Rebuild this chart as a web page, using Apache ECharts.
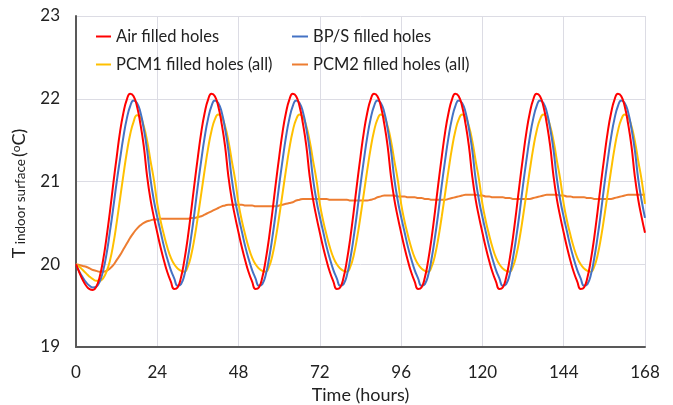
<!DOCTYPE html>
<html>
<head>
<meta charset="utf-8">
<script src="https://cdn.jsdelivr.net/npm/echarts@6/dist/echarts.min.js"></script>
<style>
  html, body { margin: 0; padding: 0; background: #fff; }
  #chart { width: 673px; height: 405px; }
</style>
</head>
<body>
<div id="chart"></div>
<script>
// time axis (hours), hourly
var hours = [0, 1, 2, 3, 4, 5, 6, 7, 8, 9, 10, 11, 12, 13, 14, 15, 16, 17, 18, 19, 20, 21, 22, 23,
  24, 25, 26, 27, 28, 29, 30, 31, 32, 33, 34, 35, 36, 37, 38, 39, 40, 41, 42, 43, 44, 45, 46, 47,
  48, 49, 50, 51, 52, 53, 54, 55, 56, 57, 58, 59, 60, 61, 62, 63, 64, 65, 66, 67, 68, 69, 70, 71,
  72, 73, 74, 75, 76, 77, 78, 79, 80, 81, 82, 83, 84, 85, 86, 87, 88, 89, 90, 91, 92, 93, 94, 95,
  96, 97, 98, 99, 100, 101, 102, 103, 104, 105, 106, 107, 108, 109, 110, 111, 112, 113, 114, 115, 116, 117, 118, 119,
  120, 121, 122, 123, 124, 125, 126, 127, 128, 129, 130, 131, 132, 133, 134, 135, 136, 137, 138, 139, 140, 141, 142, 143,
  144, 145, 146, 147, 148, 149, 150, 151, 152, 153, 154, 155, 156, 157, 158, 159, 160, 161, 162, 163, 164, 165, 166, 167,
  168]
var xTicks = [0, 24, 48, 72, 96, 120, 144, 168]
var yTicks = [19, 20, 21, 22, 23]

// Air filled holes
var airVal = [
  20.00, 19.90, 19.81, 19.74, 19.70, 19.69, 19.73, 19.85, 20.05, 20.32, 20.63, 20.97, 21.29, 21.60, 21.83, 21.99, 22.06, 22.03, 21.91, 21.70, 21.43, 21.06, 20.78, 20.57,
  20.38, 20.20, 20.04, 19.90, 19.79, 19.70, 19.72, 19.84, 20.05, 20.32, 20.64, 20.98, 21.30, 21.60, 21.83, 21.99, 22.06, 22.03, 21.91, 21.70, 21.43, 21.06, 20.78, 20.57,
  20.38, 20.20, 20.04, 19.90, 19.79, 19.70, 19.72, 19.84, 20.05, 20.32, 20.64, 20.98, 21.30, 21.60, 21.83, 21.99, 22.06, 22.03, 21.91, 21.70, 21.43, 21.06, 20.78, 20.57,
  20.38, 20.20, 20.04, 19.90, 19.79, 19.70, 19.72, 19.84, 20.05, 20.32, 20.64, 20.98, 21.30, 21.60, 21.83, 21.99, 22.06, 22.03, 21.91, 21.70, 21.43, 21.06, 20.78, 20.57,
  20.38, 20.20, 20.04, 19.90, 19.79, 19.70, 19.72, 19.84, 20.05, 20.32, 20.64, 20.98, 21.30, 21.60, 21.83, 21.99, 22.06, 22.03, 21.91, 21.70, 21.43, 21.06, 20.78, 20.57,
  20.38, 20.20, 20.04, 19.90, 19.79, 19.70, 19.72, 19.84, 20.05, 20.32, 20.64, 20.98, 21.30, 21.60, 21.83, 21.99, 22.06, 22.03, 21.91, 21.70, 21.43, 21.06, 20.78, 20.57,
  20.38, 20.20, 20.04, 19.90, 19.79, 19.70, 19.72, 19.84, 20.05, 20.32, 20.64, 20.98, 21.30, 21.60, 21.83, 21.99, 22.06, 22.03, 21.91, 21.70, 21.43, 21.06, 20.78, 20.57,
  20.38]
// BP/S filled holes
var bpsVal = [
  20.00, 19.91, 19.84, 19.78, 19.74, 19.72, 19.73, 19.79, 19.92, 20.12, 20.39, 20.68, 20.99, 21.27, 21.54, 21.76, 21.91, 21.98, 21.95, 21.84, 21.64, 21.38, 21.03, 20.77,
  20.57, 20.39, 20.21, 20.06, 19.93, 19.83, 19.74, 19.76, 19.87, 20.07, 20.33, 20.63, 20.96, 21.26, 21.54, 21.76, 21.91, 21.98, 21.95, 21.84, 21.64, 21.38, 21.03, 20.77,
  20.57, 20.39, 20.21, 20.06, 19.93, 19.83, 19.74, 19.76, 19.87, 20.07, 20.33, 20.63, 20.96, 21.26, 21.54, 21.76, 21.91, 21.98, 21.95, 21.84, 21.64, 21.38, 21.03, 20.77,
  20.57, 20.39, 20.21, 20.06, 19.93, 19.83, 19.74, 19.76, 19.87, 20.07, 20.33, 20.63, 20.96, 21.26, 21.54, 21.76, 21.91, 21.98, 21.95, 21.84, 21.64, 21.38, 21.03, 20.77,
  20.57, 20.39, 20.21, 20.06, 19.93, 19.83, 19.74, 19.76, 19.87, 20.07, 20.33, 20.63, 20.96, 21.26, 21.54, 21.76, 21.91, 21.98, 21.95, 21.84, 21.64, 21.38, 21.03, 20.77,
  20.57, 20.39, 20.21, 20.06, 19.93, 19.83, 19.74, 19.76, 19.87, 20.07, 20.33, 20.63, 20.96, 21.26, 21.54, 21.76, 21.91, 21.98, 21.95, 21.84, 21.64, 21.38, 21.03, 20.77,
  20.57, 20.39, 20.21, 20.06, 19.93, 19.83, 19.74, 19.76, 19.87, 20.07, 20.33, 20.63, 20.96, 21.26, 21.54, 21.76, 21.91, 21.98, 21.95, 21.84, 21.64, 21.38, 21.03, 20.77,
  20.56]
// PCM1 filled holes (all)
var pcm1Val = [
  20.00, 19.97, 19.93, 19.89, 19.85, 19.82, 19.80, 19.80, 19.83, 19.91, 20.04, 20.24, 20.50, 20.79, 21.08, 21.35, 21.57, 21.72, 21.80, 21.78, 21.67, 21.49, 21.25, 21.02,
  20.73, 20.52, 20.35, 20.20, 20.08, 20.00, 19.95, 19.92, 19.91, 19.97, 20.11, 20.32, 20.58, 20.86, 21.14, 21.40, 21.61, 21.75, 21.81, 21.78, 21.67, 21.49, 21.25, 21.02,
  20.73, 20.52, 20.35, 20.20, 20.08, 20.00, 19.95, 19.92, 19.91, 19.97, 20.11, 20.32, 20.58, 20.86, 21.14, 21.40, 21.61, 21.75, 21.81, 21.78, 21.67, 21.49, 21.25, 21.02,
  20.73, 20.52, 20.35, 20.20, 20.08, 20.00, 19.95, 19.92, 19.91, 19.97, 20.11, 20.32, 20.58, 20.86, 21.14, 21.40, 21.61, 21.75, 21.81, 21.78, 21.67, 21.49, 21.25, 21.02,
  20.73, 20.52, 20.35, 20.20, 20.08, 20.00, 19.95, 19.92, 19.91, 19.97, 20.11, 20.32, 20.58, 20.86, 21.14, 21.40, 21.61, 21.75, 21.81, 21.78, 21.67, 21.49, 21.25, 21.02,
  20.73, 20.52, 20.35, 20.20, 20.08, 20.00, 19.95, 19.92, 19.91, 19.97, 20.11, 20.32, 20.58, 20.86, 21.14, 21.40, 21.61, 21.75, 21.81, 21.78, 21.67, 21.49, 21.25, 21.02,
  20.73, 20.52, 20.35, 20.20, 20.08, 20.00, 19.95, 19.92, 19.91, 19.97, 20.11, 20.32, 20.58, 20.86, 21.14, 21.40, 21.61, 21.75, 21.81, 21.78, 21.67, 21.49, 21.25, 21.02,
  20.73]
// PCM2 filled holes (all)
var pcm2Val = [
  20.00, 19.99, 19.98, 19.97, 19.95, 19.93, 19.92, 19.91, 19.91, 19.92, 19.95, 19.99, 20.05, 20.11, 20.18, 20.25, 20.32, 20.38, 20.43, 20.47, 20.50, 20.52, 20.53, 20.54,
  20.54, 20.55, 20.55, 20.55, 20.55, 20.55, 20.55, 20.55, 20.55, 20.55, 20.56, 20.56, 20.57, 20.58, 20.60, 20.62, 20.64, 20.66, 20.68, 20.70, 20.71, 20.72, 20.72, 20.72,
  20.72, 20.72, 20.71, 20.71, 20.71, 20.70, 20.70, 20.70, 20.70, 20.70, 20.70, 20.70, 20.71, 20.72, 20.73, 20.74, 20.75, 20.77, 20.78, 20.79, 20.79, 20.79, 20.79, 20.79,
  20.79, 20.79, 20.79, 20.78, 20.78, 20.78, 20.78, 20.78, 20.78, 20.77, 20.77, 20.77, 20.77, 20.77, 20.77, 20.78, 20.79, 20.81, 20.82, 20.83, 20.83, 20.83, 20.83, 20.82,
  20.82, 20.82, 20.81, 20.81, 20.81, 20.80, 20.80, 20.79, 20.79, 20.78, 20.78, 20.78, 20.78, 20.78, 20.79, 20.80, 20.81, 20.82, 20.83, 20.84, 20.84, 20.84, 20.84, 20.83,
  20.83, 20.82, 20.82, 20.81, 20.81, 20.81, 20.81, 20.80, 20.80, 20.79, 20.79, 20.79, 20.79, 20.79, 20.79, 20.80, 20.81, 20.82, 20.83, 20.84, 20.84, 20.84, 20.84, 20.83,
  20.83, 20.82, 20.82, 20.81, 20.81, 20.81, 20.81, 20.80, 20.80, 20.79, 20.79, 20.79, 20.79, 20.79, 20.79, 20.80, 20.81, 20.82, 20.83, 20.84, 20.84, 20.84, 20.84, 20.84,
  20.84]

var names = ['Air filled holes', 'BP/S filled holes', 'PCM1 filled holes (all)', 'PCM2 filled holes (all)']
var colors = ['#ff0000', '#4472c4', '#ffc000', '#ed7d31']

var font = 'Lato, "Open Sans", sans-serif'

function pairs(vals) {
  return hours.map(function (h, i) { return [h, vals[i]] })
}

var chart = echarts.init(document.getElementById('chart'))

var seriesVals = [airVal, bpsVal, pcm1Val, pcm2Val]
var series = seriesVals.map(function (vals, i) {
  return {
    name: names[i],
    type: 'line',
    smooth: true,
    symbol: 'none',
    data: pairs(vals),
    lineStyle: { color: colors[i], width: 2 },
    itemStyle: { color: colors[i] },
    z: 4 - i
  }
})

var legendText = { fontSize: 16.5, color: '#222', fontFamily: font, lineHeight: 16 }

var option = {
  animation: false,
  textStyle: { fontFamily: font },
  grid: { left: 76, right: 28, top: 16, bottom: 58, outerBoundsMode: 'none', containLabel: false },
  legend: [
    {
      data: [names[0], names[2]],
      orient: 'vertical',
      left: 91, top: 23,
      icon: 'rect',
      itemWidth: 15, itemHeight: 2, itemGap: 11,
      textStyle: legendText
    },
    {
      data: [names[1], names[3]],
      orient: 'vertical',
      left: 287, top: 23,
      icon: 'rect',
      itemWidth: 16, itemHeight: 2, itemGap: 11,
      textStyle: legendText
    }
  ],
  xAxis: {
    type: 'value',
    min: xTicks[0], max: xTicks[xTicks.length - 1], interval: 24,
    name: 'Time (hours)',
    nameLocation: 'middle',
    nameGap: 36,
    nameTextStyle: { fontSize: 18, color: '#222', fontFamily: font },
    axisLine: { onZero: false, lineStyle: { color: '#595959', width: 2 } },
    axisTick: { show: false },
    axisLabel: { fontSize: 17, color: '#222', margin: 17, fontFamily: font },
    splitLine: { show: true, lineStyle: { color: '#dcdce4', width: 1 } }
  },
  yAxis: {
    type: 'value',
    min: yTicks[0], max: yTicks[yTicks.length - 1], interval: 1,
    name: '{t|T}{s| indoor surface}{p|(}{o|o}{c|C)}',
    nameLocation: 'middle',
    nameRotate: 90,
    nameGap: 48,
    nameTextStyle: {
      color: '#222',
      rich: {
        t: { fontSize: 18, fontFamily: font, color: '#222' },
        s: { fontSize: 13.5, fontFamily: font, color: '#222', verticalAlign: 'bottom', padding: [0, 2, 0, 0] },
        p: { fontSize: 18, fontFamily: font, color: '#222' },
        o: { fontSize: 12, fontFamily: font, color: '#222', verticalAlign: 'top' },
        c: { fontSize: 18, fontFamily: font, color: '#222', padding: [0, 24, 0, 0] }
      }
    },
    axisLine: { show: true, lineStyle: { color: '#595959', width: 2 } },
    axisTick: { show: false },
    axisLabel: { fontSize: 17, color: '#222', margin: 16, fontFamily: font },
    splitLine: { show: true, lineStyle: { color: '#dcdce4', width: 1 } }
  },
  series: series
}

chart.setOption(option)
</script>
</body>
</html>
